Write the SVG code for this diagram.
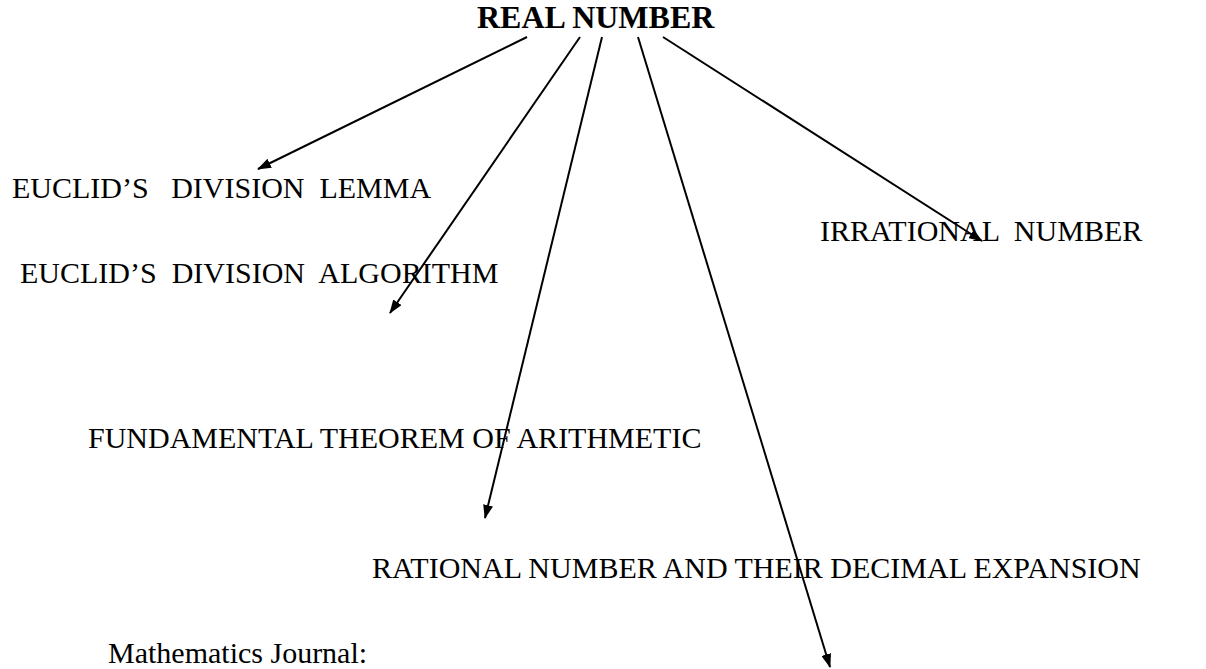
<svg xmlns="http://www.w3.org/2000/svg" width="1206" height="669" viewBox="0 0 1206 669">
<style>
text{font-family:"Liberation Serif","DejaVu Serif","Noto Serif",serif;font-size:30px;fill:#000;white-space:pre}
.title{font-weight:bold;font-size:32px}
.c line{stroke:#000;stroke-width:2;marker-end:url(#ah)}
</style>
<defs>
<marker id="ah" viewBox="0 0 14 10" refX="13" refY="5" markerWidth="14" markerHeight="10" markerUnits="userSpaceOnUse" orient="auto">
<path d="M0,0 L14,5 L0,10 z" fill="#000"/>
</marker>
</defs>
<rect width="1206" height="669" fill="#fff"/>
<g class="c" id="connectors">
<line x1="527" y1="37" x2="258" y2="169"/>
<line x1="580" y1="37" x2="390" y2="313"/>
<line x1="602" y1="37" x2="485" y2="518"/>
<line x1="638" y1="37" x2="830" y2="667"/>
<line x1="663" y1="37" x2="982" y2="241"/>
</g>
<g id="real-number"><text class="title" x="477" y="28" font-family="Liberation Serif, DejaVu Serif, serif">REAL NUMBER</text></g>
<g id="lemma"><text x="12" y="198" font-family="Liberation Serif, DejaVu Serif, serif">EUCLID’S   DIVISION  LEMMA</text></g>
<g id="algorithm"><text x="20" y="283" font-family="Liberation Serif, DejaVu Serif, serif">EUCLID’S  DIVISION  ALGORITHM</text></g>
<g id="irrational"><text x="820" y="241" font-size="31" font-family="Liberation Serif, DejaVu Serif, serif">IRRATIONAL  NUMBER</text></g>
<g id="fundamental"><text x="88" y="448" font-family="Liberation Serif, DejaVu Serif, serif">FUNDAMENTAL THEOREM OF ARITHMETIC</text></g>
<g id="rational"><text x="372" y="578" font-family="Liberation Serif, DejaVu Serif, serif">RATIONAL NUMBER AND THEIR DECIMAL EXPANSION</text></g>
<g id="journal"><text x="108" y="663" font-family="Liberation Serif, DejaVu Serif, serif">Mathematics Journal:</text></g>
</svg>
